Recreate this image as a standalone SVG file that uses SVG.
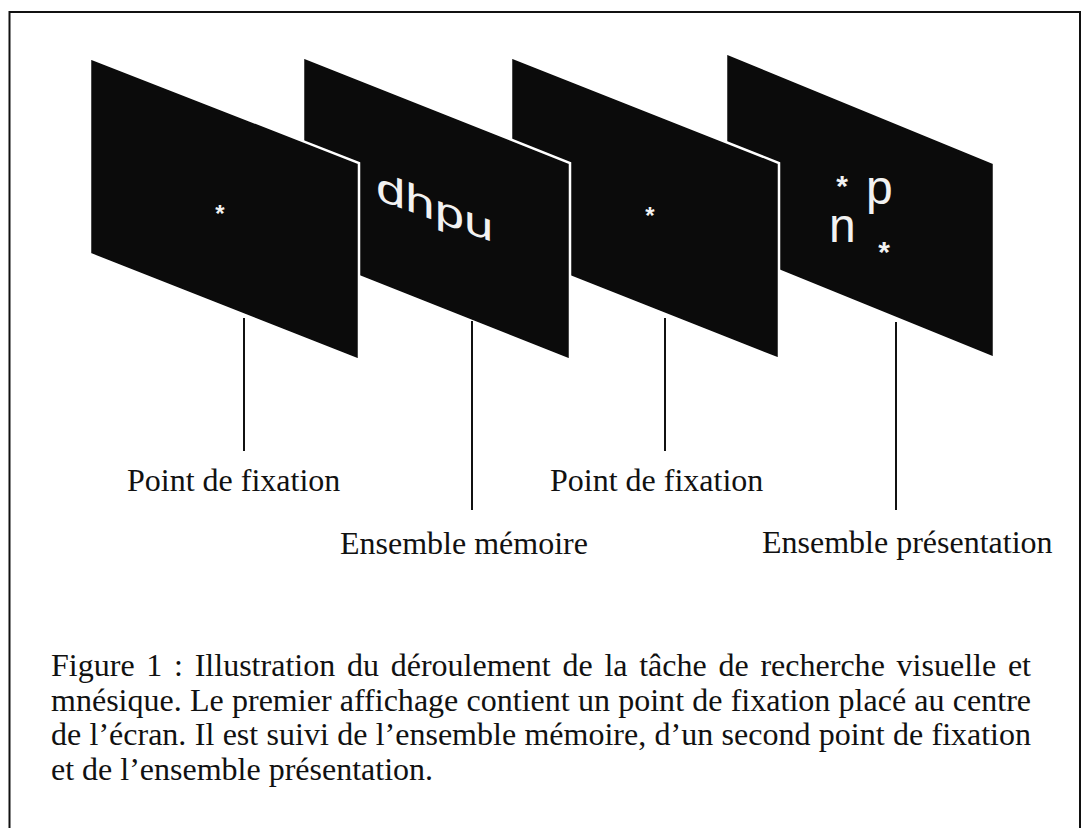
<svg xmlns="http://www.w3.org/2000/svg" width="1083" height="828" viewBox="0 0 1083 828">
  <style>
    .panel { fill: #0b0b0b; stroke: #ffffff; stroke-width: 2.5; stroke-linejoin: miter; }
    .glyph { fill: #f2f2f2; font-family: "Liberation Sans", Arial, sans-serif; }
    .star { fill: #f2f2f2; font-family: "Liberation Sans", Arial, sans-serif; font-weight: bold; text-anchor: middle; }
    .label { fill: #111111; font-family: "Liberation Serif", "Times New Roman", serif; font-size: 32px; }
    .caption { fill: #111111; font-family: "Liberation Serif", "Times New Roman", serif; font-size: 32px; }
    .conn { stroke: #111111; stroke-width: 2; fill: none; }
  </style>
  <rect x="0" y="0" width="1083" height="828" fill="#ffffff"/>
  <path d="M9.5,828 V12 H1080 V828" fill="none" stroke="#111111" stroke-width="2"/>

  <g id="ensemble-presentation">
    <polygon class="panel" points="726,53 994,163 994,358 726,249"/>
    <text class="star" x="842" y="196" font-size="30">*</text>
    <text class="glyph" x="866" y="204" font-size="48">p</text>
    <text class="glyph" x="829" y="242" font-size="48">n</text>
    <text class="star" x="884" y="262" font-size="30">*</text>
    <text class="label" x="762" y="553">Ensemble présentation</text>
  </g>

  <g id="point-fixation-2">
    <polygon class="panel" points="511,57 779,163 779,359 511,253"/>
    <text class="star" x="650" y="224" font-size="24">*</text>
    <text class="label" x="550" y="491">Point de fixation</text>
  </g>

  <g id="ensemble-memoire">
    <polygon class="panel" points="303,57 570,163 570,360 303,254"/>
    <g transform="translate(376,199) skewY(20.3) scale(1.32,1)">
      <text class="glyph" x="0" y="0" font-size="40">dhpu</text>
    </g>
    <text class="label" x="340" y="554">Ensemble mémoire</text>
  </g>

  <g id="point-fixation-1">
    <polygon class="panel" points="90,58 359,163 359,360 90,254"/>
    <text class="star" x="220" y="222" font-size="24">*</text>
    <text class="label" x="127" y="491">Point de fixation</text>
  </g>

  <g id="connectors">
    <line class="conn" x1="244" y1="318" x2="244" y2="451"/>
    <line class="conn" x1="472" y1="321" x2="472" y2="510"/>
    <line class="conn" x1="665" y1="318" x2="665" y2="451"/>
    <line class="conn" x1="896" y1="322" x2="896" y2="510"/>
  </g>

  <g id="caption">
    <text class="caption" x="51" y="676" word-spacing="3.7" textLength="980" lengthAdjust="spacing">Figure 1 : Illustration du déroulement de la tâche de recherche visuelle et</text>
    <text class="caption" x="51" y="710.5" word-spacing="0.2" textLength="980" lengthAdjust="spacing">mnésique. Le premier affichage contient un point de fixation placé au centre</text>
    <text class="caption" x="51" y="745" word-spacing="0.35" textLength="980" lengthAdjust="spacing">de l’écran. Il est suivi de l’ensemble mémoire, d’un second point de fixation</text>
    <text class="caption" x="51" y="779.5">et de l’ensemble présentation.</text>
  </g>
</svg>
